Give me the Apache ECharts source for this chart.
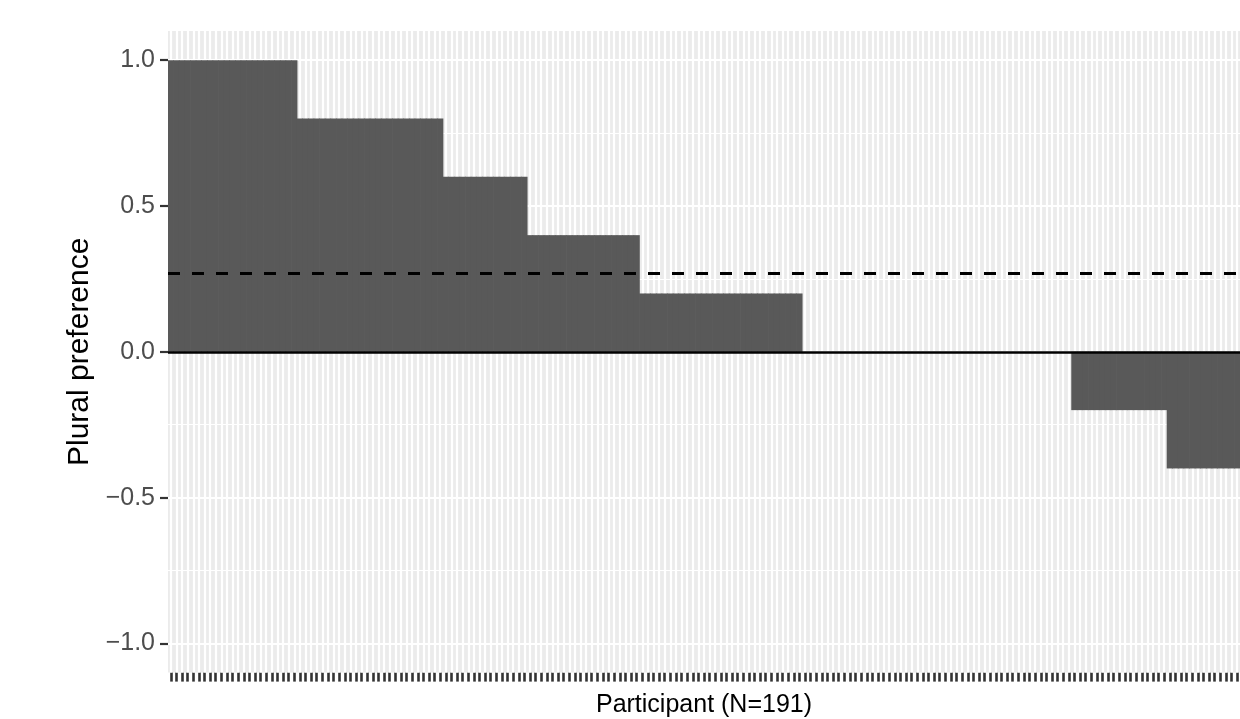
<!DOCTYPE html>
<html>
<head>
<meta charset="utf-8">
<script src="https://cdn.jsdelivr.net/npm/echarts@6/dist/echarts.min.js"></script>
<style>
html, body { margin: 0; padding: 0; background: #ffffff; }
#chart { width: 1240px; height: 719px; }
</style>
</head>
<body>
<div id="chart"></div>
<script>
// Plural preference per participant, sorted descending (N = 191)
const preference = [
  1, 1, 1, 1, 1, 1, 1, 1, 1, 1, 1, 1, 1, 1, 1, 1, 1, 1, 1, 1, 1, 1, 1,
  0.8, 0.8, 0.8, 0.8, 0.8, 0.8, 0.8, 0.8, 0.8, 0.8, 0.8, 0.8, 0.8,
  0.8, 0.8, 0.8, 0.8, 0.8, 0.8, 0.8, 0.8, 0.8, 0.8, 0.8, 0.8, 0.8,
  0.6, 0.6, 0.6, 0.6, 0.6, 0.6, 0.6, 0.6, 0.6, 0.6, 0.6, 0.6, 0.6, 0.6, 0.6,
  0.4, 0.4, 0.4, 0.4, 0.4, 0.4, 0.4, 0.4, 0.4, 0.4,
  0.4, 0.4, 0.4, 0.4, 0.4, 0.4, 0.4, 0.4, 0.4, 0.4,
  0.2, 0.2, 0.2, 0.2, 0.2, 0.2, 0.2, 0.2, 0.2, 0.2,
  0.2, 0.2, 0.2, 0.2, 0.2, 0.2, 0.2, 0.2, 0.2, 0.2,
  0.2, 0.2, 0.2, 0.2, 0.2, 0.2, 0.2, 0.2, 0.2,
  0, 0, 0, 0, 0, 0, 0, 0, 0, 0, 0, 0, 0, 0, 0, 0,
  0, 0, 0, 0, 0, 0, 0, 0, 0, 0, 0, 0, 0, 0, 0, 0,
  0, 0, 0, 0, 0, 0, 0, 0, 0, 0, 0, 0, 0, 0, 0, 0,
  -0.2, -0.2, -0.2, -0.2, -0.2, -0.2, -0.2, -0.2, -0.2,
  -0.2, -0.2, -0.2, -0.2, -0.2, -0.2, -0.2, -0.2,
  -0.4, -0.4, -0.4, -0.4, -0.4, -0.4, -0.4, -0.4, -0.4, -0.4, -0.4, -0.4, -0.4
];
const participants = preference.map((_, i) => 'P' + (i + 1));
const meanPreference = 0.271;
const yMajorTicks = [-1, -0.5, 0, 0.5, 1];
const yMinorGrid = [-0.75, -0.25, 0.25, 0.75];
const xTitle = 'Participant (N=191)';
const yTitle = 'Plural preference';

const FONT = 'Liberation Sans, Arial, Helvetica, sans-serif';
const chart = echarts.init(document.getElementById('chart'), null, { renderer: 'canvas' });

const gridLines = []
  .concat(participants.map(p => ({ xAxis: p, lineStyle: { color: '#ffffff', width: 2.2, type: 'solid' } })))
  .concat(yMajorTicks.map(v => ({ yAxis: v, lineStyle: { color: '#ffffff', width: 2.2, type: 'solid' } })))
  .concat(yMinorGrid.map(v => ({ yAxis: v, lineStyle: { color: '#ffffff', width: 1.1, type: 'solid' } })));

chart.setOption({
  animation: false,
  backgroundColor: '#ffffff',
  grid: {
    left: 168, right: 0, top: 31, bottom: 46.4,
    outerBoundsMode: 'none',
    containLabel: false,
    show: true, backgroundColor: '#EBEBEB', borderWidth: 0
  },
  xAxis: {
    type: 'category',
    data: participants,
    boundaryGap: true,
    axisLine: { show: false, onZero: false },
    axisTick: { show: true, alignWithLabel: true, interval: 0, length: 9, lineStyle: { color: '#333333', width: 2.6 } },
    axisLabel: { show: false },
    splitLine: { show: false },
    name: xTitle,
    nameLocation: 'middle',
    nameGap: 20,
    nameTextStyle: { color: '#000000', fontSize: 25, fontFamily: FONT }
  },
  yAxis: {
    type: 'value',
    min: -1.1, max: 1.1,
    axisLine: { show: false },
    axisTick: { show: true, customValues: yMajorTicks, length: 8, lineStyle: { color: '#333333', width: 2.2 } },
    axisLabel: {
      customValues: yMajorTicks,
      margin: 13,
      color: '#4D4D4D', fontSize: 25, fontFamily: FONT,
      formatter: v => v.toFixed(1).replace('-', '\u2212')
    },
    splitLine: { show: false },
    name: yTitle,
    nameLocation: 'middle',
    nameRotate: 90,
    nameGap: 68,
    nameTextStyle: { color: '#000000', fontSize: 30, fontFamily: FONT }
  },
  series: [
    {
      type: 'line',
      data: [],
      silent: true,
      markLine: {
        z: 1,
        silent: true,
        symbol: ['none', 'none'],
        label: { show: false },
        emphasis: { disabled: true },
        data: gridLines
      }
    },
    {
      type: 'bar',
      data: preference,
      barWidth: '112%',
      itemStyle: { color: '#595959', borderWidth: 0 },
      emphasis: { disabled: true },
      markLine: {
        silent: true,
        symbol: ['none', 'none'],
        label: { show: false },
        emphasis: { disabled: true },
        data: [
          { yAxis: 0, lineStyle: { color: '#000000', width: 2.6, type: 'solid' } },
          { yAxis: meanPreference, lineStyle: { color: '#000000', width: 3, type: [12, 12] } }
        ]
      }
    }
  ]
});
</script>
</body>
</html>
